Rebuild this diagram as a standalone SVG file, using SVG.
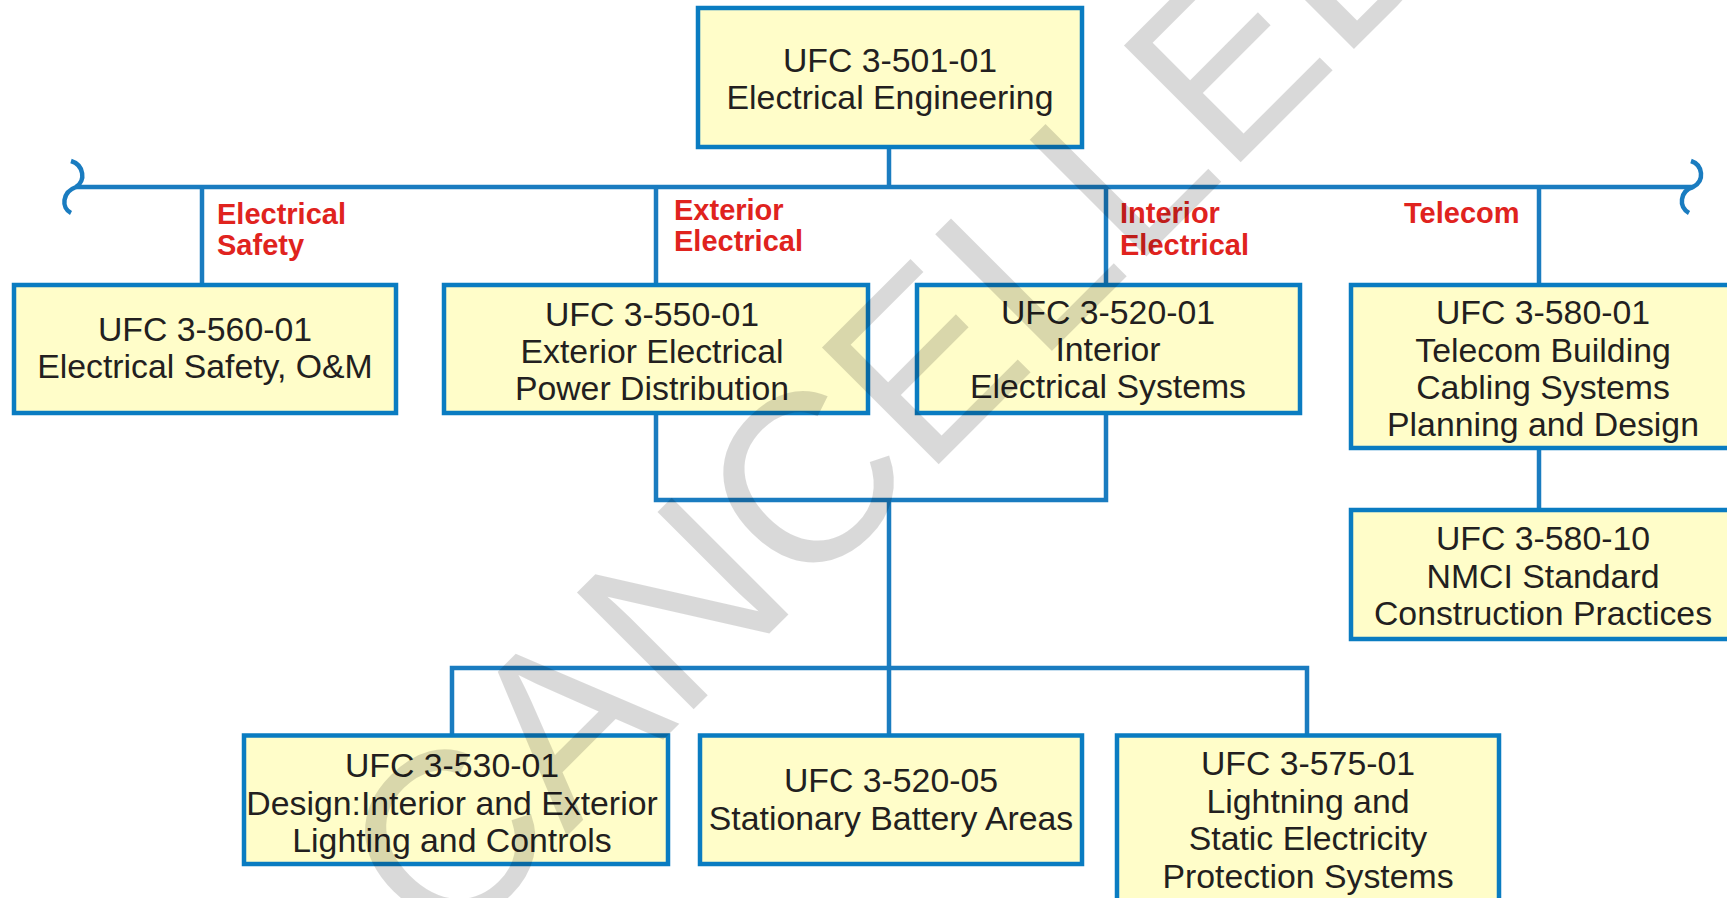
<svg xmlns="http://www.w3.org/2000/svg" width="1727" height="898" viewBox="0 0 1727 898">
<style>
.box{fill:#FFFDC9;stroke:#0A7CC1;stroke-width:4.5}
.t{font-family:"Liberation Sans",Arial,sans-serif;font-size:33.8px;fill:#231F20;text-anchor:middle}
.lbl{font-family:"Liberation Sans",Arial,sans-serif;font-size:29px;font-weight:bold;fill:#E0231E}
.c{fill:none;stroke:#1A7CC0;stroke-width:4.5;stroke-linejoin:miter}
.wm{font-family:"Liberation Sans",Arial,sans-serif;font-size:240px;fill:#000;fill-opacity:0.15}
</style>
<rect width="1727" height="898" fill="#fff"/>
<g id="connectors">
<path class="c" d="M71,161 C84,165 86,181 76,187 C62,192 61,208 71,213"/>
<path class="c" d="M1691,161 C1703,165 1705,181 1693,187 C1680,191 1678,207 1689,213"/>
<path class="c" d="M76,187 H1693"/>
<path class="c" d="M889,148 V187"/>
<path class="c" d="M202,187 V284"/>
<path class="c" d="M656,187 V284"/>
<path class="c" d="M1106,187 V284"/>
<path class="c" d="M1539,187 V284"/>
<path class="c" d="M1539,449 V509"/>
<path class="c" d="M656,414 V500 H1106 V414"/>
<path class="c" d="M889,500 V735"/>
<path class="c" d="M452,735 V668 H1307 V735"/>
</g>
<g id="n-501-01">
<rect class="box" x="698" y="8" width="384" height="139"/>
<text class="t" x="890" y="72">UFC 3-501-01</text>
<text class="t" x="890" y="109">Electrical Engineering</text>
</g>
<g id="lbl-safety"><text class="lbl" x="217" y="224">Electrical</text><text class="lbl" x="217" y="255">Safety</text></g>
<g id="lbl-exterior"><text class="lbl" x="674" y="220">Exterior</text><text class="lbl" x="674" y="251">Electrical</text></g>
<g id="lbl-interior"><text class="lbl" x="1120" y="223">Interior</text><text class="lbl" x="1120" y="255">Electrical</text></g>
<g id="lbl-telecom"><text class="lbl" x="1404" y="223">Telecom</text></g>
<g id="n-560-01">
<rect class="box" x="14" y="285" width="382" height="128"/>
<text class="t" x="205" y="341">UFC 3-560-01</text>
<text class="t" x="205" y="378">Electrical Safety, O&amp;M</text>
</g>
<g id="n-550-01">
<rect class="box" x="444" y="285" width="424" height="128"/>
<text class="t" x="652" y="326">UFC 3-550-01</text>
<text class="t" x="652" y="363">Exterior Electrical</text>
<text class="t" x="652" y="400">Power Distribution</text>
</g>
<g id="n-520-01">
<rect class="box" x="917" y="285" width="383" height="128"/>
<text class="t" x="1108" y="324">UFC 3-520-01</text>
<text class="t" x="1108" y="361">Interior</text>
<text class="t" x="1108" y="398">Electrical Systems</text>
</g>
<g id="n-580-01">
<rect class="box" x="1351" y="285" width="386" height="163"/>
<text class="t" x="1543" y="324">UFC 3-580-01</text>
<text class="t" x="1543" y="361.5">Telecom Building</text>
<text class="t" x="1543" y="399">Cabling Systems</text>
<text class="t" x="1543" y="436">Planning and Design</text>
</g>
<g id="n-580-10">
<rect class="box" x="1351" y="510" width="386" height="129"/>
<text class="t" x="1543" y="550">UFC 3-580-10</text>
<text class="t" x="1543" y="587.5">NMCI Standard</text>
<text class="t" x="1543" y="625">Construction Practices</text>
</g>
<g id="n-530-01">
<rect class="box" x="244" y="735.5" width="424" height="128.5"/>
<text class="t" x="452" y="777">UFC 3-530-01</text>
<text class="t" x="452" y="814.5">Design:Interior and Exterior</text>
<text class="t" x="452" y="852">Lighting and Controls</text>
</g>
<g id="n-520-05">
<rect class="box" x="700" y="735.5" width="382" height="128.5"/>
<text class="t" x="891" y="792">UFC 3-520-05</text>
<text class="t" x="891" y="829.5">Stationary Battery Areas</text>
</g>
<g id="n-575-01">
<rect class="box" x="1117" y="735.5" width="382" height="175"/>
<text class="t" x="1308" y="775">UFC 3-575-01</text>
<text class="t" x="1308" y="812.5">Lightning and</text>
<text class="t" x="1308" y="850">Static Electricity</text>
<text class="t" x="1308" y="887.5">Protection Systems</text>
</g>
<text class="wm" transform="translate(444,959) rotate(-45)">CANCELLED</text>
</svg>
